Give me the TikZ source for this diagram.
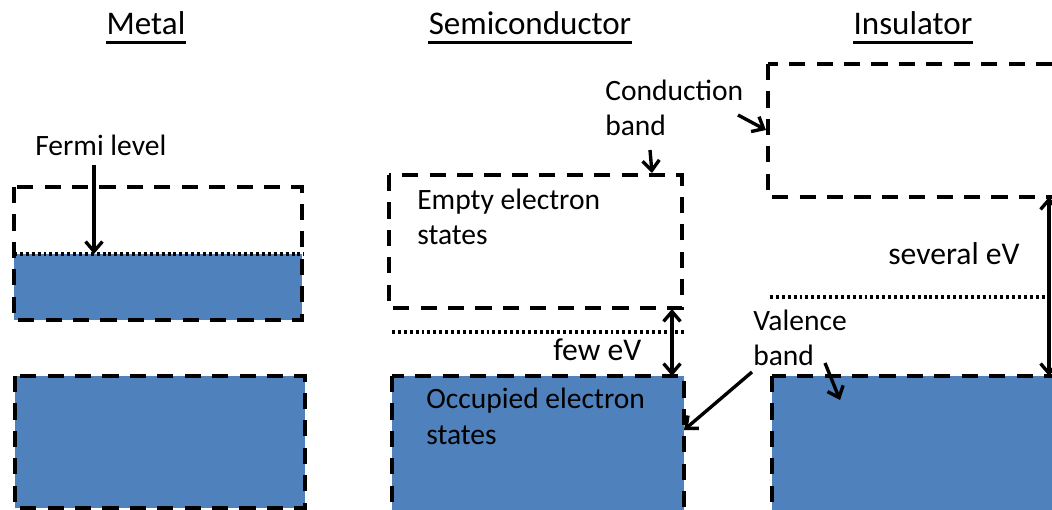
\documentclass[tikz,border=0pt]{standalone}
\usepackage{fontspec}
\setmainfont{Carlito}
\usetikzlibrary{positioning,arrows.meta}
\definecolor{bandblue}{HTML}{4F81BD}
% one energy band: corners (#1,#2), (#3,#4), fill colour #5
\newcommand{\bandbox}[5]{
  \path[fill=#5] (#1,#2) rectangle (#3,#4);
  \draw[band] (#1,#2) rectangle (#3,#4);
}

\begin{document}
\begin{tikzpicture}[x=0.025cm,y=-0.025cm,
  >={Straight Barb[length=7pt,width=12pt]},
  band/.style={line width=2.8pt,dash pattern=on 11.5pt off 8pt},
  level/.style={line width=2.2pt,dash pattern=on 2.1pt off 2.1pt},
  pointer/.style={->,line width=2.4pt},
  gap/.style={<->,line width=2.4pt},
  title/.style={anchor=base,inner sep=0pt,font=\fontsize{23.5}{28}\selectfont},
  label/.style={anchor=base west,inner sep=0pt,align=left,font=\fontsize{21}{25}\selectfont},
  ev/.style={anchor=base west,inner sep=0pt,font=\fontsize{22.5}{27}\selectfont}]
\path[use as bounding box] (0,0) rectangle (1052,510);
\clip (0,0) rectangle (1052,510);

% titles, underlined
\foreach \name/\x/\txt in {metal/146/Metal, semi/530/Semiconductor, insul/913/Insulator} {
  \node[title] (\name) at (\x,35) {\txt};
  \draw[line width=2pt] ([yshift=-5.5pt]\name.base west) -- ([yshift=-5.5pt]\name.base east);
}

%metal:
\fill[bandblue] (14,254) rectangle (302,320);
\bandbox{14}{187}{302}{320}{none}
\bandbox{15}{376}{305}{508}{bandblue}
\draw[level] (14,254) -- (304,254);
\node[label] (fermi) at (35,156) {Fermi level};
\coordinate (fermi top) at (94,165);
\coordinate (fermi end) at (94,254);
\draw[pointer] (fermi top) -- (fermi end);

%semiconductor:
\bandbox{389}{175}{682}{308}{white}
\bandbox{392}{376}{684}{515}{bandblue}
\draw[level] (392,332) -- (685,332);
% (base of a two-line label = its last line)
\node[label] (empty) at (417,245) {Empty electron\\states};
\node[label] (occupied) at (426,444) {Occupied electron\\states};
\node[ev] (few) at (553,361) {few eV};
\coordinate (semi cb) at (672,309);
\coordinate (semi vb) at (672,376);
\draw[gap] (semi cb) -- (semi vb);

%insulator:
\bandbox{768}{64}{1065}{197}{white}
\bandbox{772}{376}{1065}{515}{bandblue}
\draw[level] (770,297) -- (1052,297);
\node[ev] (several) at (888,265) {several eV};
\coordinate (insul cb) at (1049,197);
\coordinate (insul vb) at (1049,376);
\draw[gap] (insul cb) -- (insul vb);

% band names with their pointers
\node[label] (conduction) at (605,136) {Conduction\\band};
\node[label] (valence) at (753,366) {Valence\\band};
\coordinate (c1) at (650,150); \coordinate (c1e) at (652,173);
\coordinate (c2) at (738,115); \coordinate (c2e) at (766,130);
\coordinate (v1) at (752,372); \coordinate (v1e) at (684,430);
\coordinate (v2) at (825,363); \coordinate (v2e) at (840,400);
\foreach \a/\b in {c1/c1e, c2/c2e, v1/v1e, v2/v2e}
  \draw[pointer] (\a) -- (\b);
\end{tikzpicture}
\end{document}
